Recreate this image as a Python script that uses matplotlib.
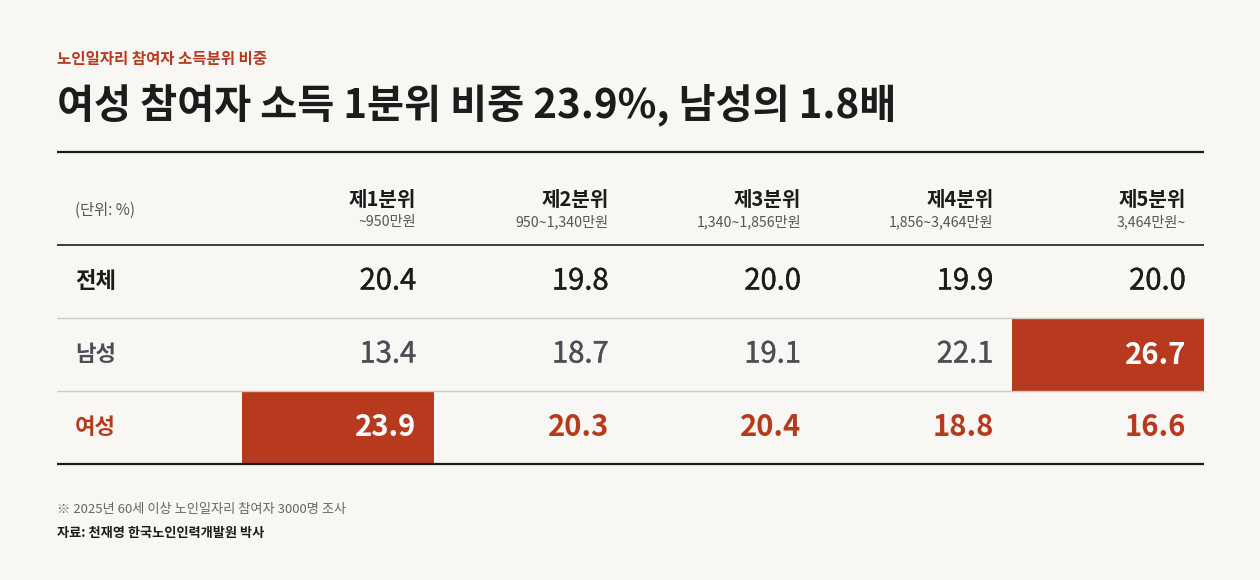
import matplotlib
matplotlib.use("Agg")
import matplotlib.pyplot as plt
import matplotlib.patheffects as pe
from matplotlib.patches import Rectangle
import numpy as np

plt.rcParams["font.family"] = ["Noto Sans CJK KR", "DejaVu Sans"]

# data
kicker = "노인일자리 참여자 소득분위 비중"
title = "여성 참여자 소득 1분위 비중 23.9%, 남성의 1.8배"
unit_label = "(단위: %)"
quintiles = ["제1분위", "제2분위", "제3분위", "제4분위", "제5분위"]
ranges = ["~950만원", "950~1,340만원", "1,340~1,856만원", "1,856~3,464만원", "3,464만원~"]
groups = ["전체", "남성", "여성"]
total = [20.4, 19.8, 20.0, 19.9, 20.0]
male = [13.4, 18.7, 19.1, 22.1, 26.7]
female = [23.9, 20.3, 20.4, 18.8, 16.6]
note = "※ 2025년 60세 이상 노인일자리 참여자 3000명 조사"
source = "자료: 천재영 한국노인인력개발원 박사"

BG = "#F9F7F3"
RED = "#B73A1F"
INK = "#1C1C1C"
GREY = "#4A4E56"

values = np.array([total, male, female])
highlight = {1: int(np.argmax(male)), 2: int(np.argmax(female))}

fig = plt.figure(figsize=(12.6, 5.8), dpi=100, facecolor=BG)
ax = fig.add_axes([0, 0, 1, 1])
ax.set_xlim(0, 1260)
ax.set_ylim(580, 0)
ax.axis("off")
ax.set_facecolor(BG)

left, right = 57, 1204
col0 = 242
col_w = (right - col0) / len(quintiles)
head_bottom = 245
row_h = 73

ax.text(left, 59, kicker, color=RED, fontsize=11.2, fontweight="bold", va="center")
ax.text(left, 105, title, color=INK, fontsize=29, fontweight="heavy", va="center")

ax.hlines(152, left, right, color=INK, lw=1.6)
ax.hlines(head_bottom, left, right, color=INK, lw=1.2)
for j in range(1, len(groups)):
    ax.hlines(head_bottom + j * row_h, left, right, color="#CFCBBF", lw=1)

ax.text(75, 210, unit_label, color="#555555", fontsize=11, va="center")
for i, (q, r) in enumerate(zip(quintiles, ranges)):
    xr = col0 + (i + 1) * col_w - 18
    ax.text(xr, 200, q, color=INK, fontsize=14.5, fontweight="bold", ha="right", va="center")
    ax.text(xr, 222, r, color="#555555", fontsize=10.2, ha="right", va="center")

label_styles = [
    dict(color=INK, fontweight="bold"),
    dict(color=GREY, fontweight="bold"),
    dict(color=RED, fontweight="bold"),
]
value_styles = [
    dict(color=INK, fontweight="normal"),
    dict(color=GREY, fontweight="normal"),
    dict(color=RED, fontweight="bold"),
]

for j, g in enumerate(groups):
    top = head_bottom + j * row_h
    yc = top + row_h / 2
    ax.text(75, yc, g, fontsize=16, va="center", **label_styles[j])
    for i, v in enumerate(values[j]):
        x0 = col0 + i * col_w
        style = dict(value_styles[j])
        if highlight.get(j) == i:
            ax.add_patch(Rectangle((x0, top + 0.5), col_w, row_h - 1, color=RED, lw=0))
            style = dict(color="white", fontweight="bold")
        t = ax.text(x0 + col_w - 18, yc, f"{v:.1f}", fontsize=21, ha="right", va="center", **style)
        if style["fontweight"] == "normal":
            # fake a medium weight
            t.set_path_effects([pe.withStroke(linewidth=0.3, foreground=style["color"])])

ax.hlines(head_bottom + len(groups) * row_h, left, right, color=INK, lw=1.6)

ax.text(left, 510, note, color="#666666", fontsize=9.5, va="center")
ax.text(left, 533, source, color=INK, fontsize=9.5, fontweight="bold", va="center")

fig.savefig("out.png", dpi=100, facecolor=BG)
